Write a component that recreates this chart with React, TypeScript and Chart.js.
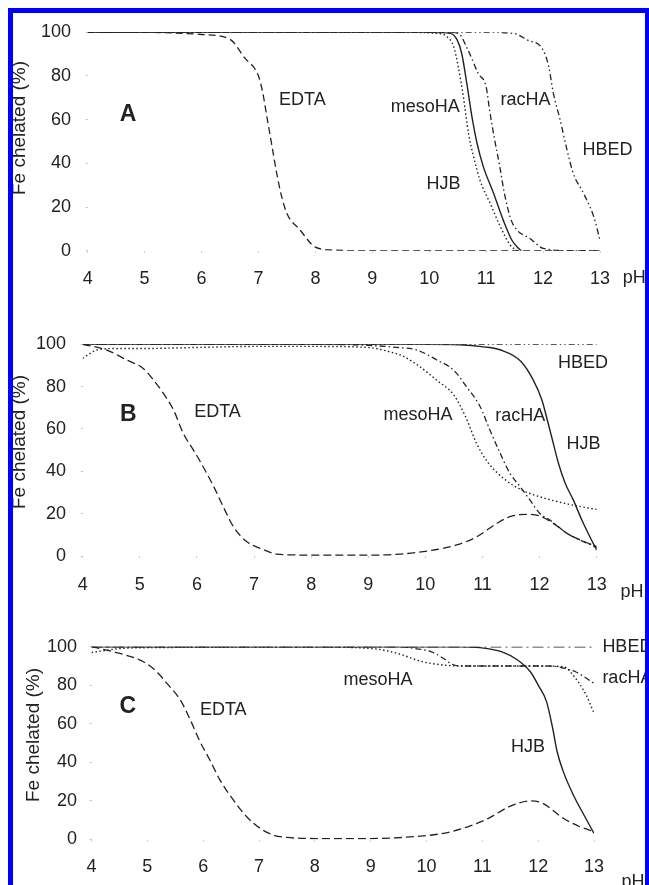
import { useEffect, useRef } from 'react';
import { Chart, registerables } from 'chart.js';

Chart.register(...registerables);

const FONT = '"Liberation Sans", Arial, Helvetica, sans-serif';
const INK = '#222222';
const BLUE = '#0000ff';

// ---------- axis ticks ----------
const PH_MIN = 4;
const PH_MAX = 13;
const PCT_MIN = 0;
const PCT_MAX = 100;
const PH_STEP = 1;
const PCT_STEP = 20;
const Y_TITLE = 'Fe chelated (%)';
const X_TITLE = 'pH';

// ---------- Panel A ----------
const phEdtaA = [4, 5, 5.5, 6, 6.5, 6.75, 7, 7.07, 7.15, 7.23, 7.32, 7.41, 7.5, 7.73, 8, 8.3, 9, 10, 11, 12, 13];
const edtaA = [100, 100, 99.7, 99, 96.8, 88.5, 80, 73, 61, 49, 35.5, 24.5, 17, 9.5, 1.6, 0.3, 0, 0, 0, 0, 0];
const phHjbA = [4, 6, 8, 10, 10.37, 10.49, 10.57, 10.66, 10.75, 10.84, 10.95, 11.13, 11.3, 11.45, 11.57, 11.62];
const hjbA = [100, 100, 100, 100, 99.5, 96.5, 90.4, 76.6, 61.4, 49.2, 38.5, 26.3, 14, 4.9, 1.1, 0];
const phMesoA = [4, 8, 9.5, 10.13, 10.31, 10.43, 10.51, 10.6, 10.69, 10.78, 10.89, 11.07, 11.25, 11.42, 11.51, 11.55];
const mesoA = [100, 100, 100, 99.5, 98, 93.4, 84.2, 70.5, 53.7, 43, 32.4, 21.7, 11, 2.6, 0.6, 0];
const phRacA = [4, 8, 10.3, 10.51, 10.68, 10.86, 11, 11.06, 11.15, 11.24, 11.32, 11.44, 11.54, 11.77, 12, 12.5, 13];
const racA = [100, 100, 100, 99.5, 91.9, 81.2, 75, 64.4, 50.7, 38.5, 26.3, 14, 9.5, 5.6, 1.1, 0, 0];
const phHbedA = [4, 8, 11, 11.48, 11.72, 12, 12.1, 12.18, 12.3, 12.42, 12.53, 12.71, 12.89, 13];
const hbedA = [100, 100, 100, 99.5, 96.5, 91.9, 84.2, 72.1, 59.9, 46.2, 35.4, 26.3, 15.6, 4.9];

// ---------- Panel B ----------
const phEdtaB = [4, 4.42, 4.77, 5.06, 5.24, 5.41, 5.59, 5.76, 5.94, 6.05, 6.29, 6.46, 6.64, 6.87, 7.11, 7.4, 7.7, 8, 9, 9.56, 10.14, 10.55, 10.9, 11.25, 11.48, 11.78, 12, 12.24, 12.48, 12.71, 13];
const edtaB = [100, 97.3, 92.6, 88.6, 83.1, 76.9, 69, 58, 50, 45, 33, 23.3, 13.8, 6.8, 3.6, 0.9, 0.5, 0.4, 0.4, 0.9, 2.8, 5.2, 9.1, 15.4, 18.6, 19.7, 18.9, 15.4, 10.7, 7.6, 4.5];
const phHjbB = [4, 6, 8, 10, 10.6, 11.02, 11.32, 11.67, 11.89, 12.04, 12.15, 12.24, 12.33, 12.45, 12.59, 12.74, 12.88, 13];
const hjbB = [100, 100, 100, 100, 99.8, 98.8, 97.3, 92, 83.1, 73.7, 62.7, 53.2, 43.8, 34.3, 26.5, 17, 9.1, 2.8];
const phMesoB = [4, 4.25, 4.6, 5, 6, 7, 8, 9, 9.37, 9.6, 9.9, 10.2, 10.5, 10.7, 10.9, 11.1, 11.4, 11.7, 12, 12.5, 13];
const mesoB = [93.4, 97.3, 98, 98, 98.5, 99, 99, 98.5, 96.5, 94.5, 89.5, 83, 76, 66, 53, 44, 36, 31, 28, 24.5, 22];
const phRacB = [4, 8, 9, 9.5, 9.85, 10.2, 10.49, 10.72, 10.96, 11.13, 11.31, 11.48, 11.66, 11.83, 12, 12.18, 12.48, 12.77, 13];
const racB = [100, 100, 99.5, 98.5, 97.3, 92.6, 87.9, 80, 70.5, 59.5, 48.5, 39.1, 32.7, 26.5, 20.2, 17, 10.7, 6.8, 4];
const phHbedB = [4, 8, 13];
const hbedB = [100, 100, 100];

// ---------- Panel C ----------
const phEdtaC = [4, 4.51, 4.93, 5.17, 5.35, 5.59, 5.77, 5.93, 6.12, 6.3, 6.54, 6.78, 7.02, 7.26, 7.5, 8, 9, 9.78, 10.3, 10.74, 11.11, 11.48, 11.86, 12.08, 12.45, 12.75, 13];
const edtaC = [100, 96.5, 92.2, 87, 81, 72.4, 62, 51.6, 41.2, 30.9, 20.5, 11.8, 5.8, 2.3, 1.1, 0.5, 0.5, 1.5, 3.2, 6.6, 11, 17, 20, 18.8, 11, 6.6, 4];
const phHjbC = [4, 8, 10.6, 10.96, 11.34, 11.63, 11.86, 12, 12.15, 12.26, 12.34, 12.45, 12.63, 12.82, 13];
const hjbC = [100, 100, 100, 99.5, 97.4, 93.1, 87, 80.1, 71.5, 57.7, 45.5, 35.2, 23.1, 12.7, 3.2];
const phMesoC = [4, 4.5, 5, 8, 9.04, 9.48, 9.93, 10.3, 10.6, 11, 12, 12.45, 12.67, 12.86, 13];
const mesoC = [97, 99, 99.5, 99.8, 99, 96.5, 92.2, 90.5, 90, 90, 90, 89.6, 83.6, 74.9, 65.5];
const phRacC = [4, 8, 9.5, 9.8, 10.08, 10.3, 10.45, 10.6, 11, 12, 12.3, 12.5, 12.67, 13];
const racC = [100, 100, 100, 99, 97.4, 94, 91, 90, 90, 90, 89.8, 88.5, 87, 81];
const phHbedC = [4, 8, 13];
const hbedC = [100, 100, 100];

// ---------- line styles ----------
const STYLE = {
  hjb: { dash: [] as number[], width: 1.4 },
  edtaA: { dash: [7, 4], width: 1.3 },
  edta: { dash: [8, 4], width: 1.3 },
  meso: { dash: [1.5, 2.5], width: 1.4 },
  rac: { dash: [6, 3, 1.5, 3], width: 1.3 },
  hbed: { dash: [6, 3, 1.5, 3, 1.5, 3], width: 1.3 },
  hbedC: { dash: [11, 4, 2, 4], width: 1.4 },
};

type Lbl = { text: string; x: number; y: number; size: number; bold?: boolean; align?: CanvasTextAlign };
type Ser = { ph: number[]; val: number[]; style: { dash: number[]; width: number } };
type Panel = {
  top: number;
  height: number;
  area: { left: number; right: number; top: number; bottom: number };
  yGap: number;
  xPad: number;
  title: { x: number; y: number };
  series: Ser[];
  labels: Lbl[];
};

const W = 649;

const PANELS: Panel[] = [
  {
    top: 0,
    height: 300,
    area: { left: 87.7, right: 600, top: 32.3, bottom: 250.7 },
    yGap: 16.7,
    xPad: 15.5,
    title: { x: 20, y: 128 },
    series: [
      { ph: phHjbA, val: hjbA, style: STYLE.hjb },
      { ph: phMesoA, val: mesoA, style: STYLE.meso },
      { ph: phRacA, val: racA, style: STYLE.rac },
      { ph: phHbedA, val: hbedA, style: STYLE.hbed },
      { ph: phEdtaA, val: edtaA, style: STYLE.edtaA },
    ],
    labels: [
      { text: 'A', x: 4.71, y: 62.5, size: 23, bold: true },
      { text: 'EDTA', x: 7.77, y: 69, size: 18 },
      { text: 'mesoHA', x: 9.93, y: 65.8, size: 18 },
      { text: 'racHA', x: 11.69, y: 69, size: 18 },
      { text: 'HBED', x: 13.13, y: 46.1, size: 18 },
      { text: 'HJB', x: 10.25, y: 30.5, size: 18 },
      { text: X_TITLE, x: 13.6, y: -12.5, size: 18 },
    ],
  },
  {
    top: 300,
    height: 300,
    area: { left: 82.7, right: 596.7, top: 44.3, bottom: 256 },
    yGap: 16.7,
    xPad: 16,
    title: { x: 20, y: 142 },
    series: [
      { ph: phHjbB, val: hjbB, style: STYLE.hjb },
      { ph: phMesoB, val: mesoB, style: STYLE.meso },
      { ph: phRacB, val: racB, style: STYLE.rac },
      { ph: phHbedB, val: hbedB, style: STYLE.hbed },
      { ph: phEdtaB, val: edtaB, style: STYLE.edta },
    ],
    labels: [
      { text: 'B', x: 4.8, y: 66.7, size: 23, bold: true },
      { text: 'EDTA', x: 6.36, y: 68, size: 18 },
      { text: 'mesoHA', x: 9.87, y: 66.6, size: 18 },
      { text: 'racHA', x: 11.66, y: 66.1, size: 18 },
      { text: 'HBED', x: 12.76, y: 91.2, size: 18 },
      { text: 'HJB', x: 12.77, y: 52.9, size: 18 },
      { text: X_TITLE, x: 13.62, y: -17, size: 18 },
    ],
  },
  {
    top: 600,
    height: 285,
    area: { left: 91.5, right: 594, top: 46.7, bottom: 239.5 },
    yGap: 14.5,
    xPad: 14.5,
    title: { x: 33.5, y: 135 },
    series: [
      { ph: phHjbC, val: hjbC, style: STYLE.hjb },
      { ph: phMesoC, val: mesoC, style: STYLE.meso },
      { ph: phRacC, val: racC, style: STYLE.rac },
      { ph: phHbedC, val: hbedC, style: STYLE.hbedC },
      { ph: phEdtaC, val: edtaC, style: STYLE.edta },
    ],
    labels: [
      { text: 'C', x: 4.65, y: 68.7, size: 23, bold: true },
      { text: 'EDTA', x: 6.36, y: 67.2, size: 18 },
      { text: 'mesoHA', x: 9.13, y: 82.8, size: 18 },
      { text: 'HJB', x: 11.82, y: 48, size: 18 },
      { text: 'HBED', x: 13.15, y: 99.7, size: 18, align: 'left' },
      { text: 'racHA', x: 13.15, y: 83.7, size: 18, align: 'left' },
      { text: X_TITLE, x: 13.7, y: -22, size: 18 },
    ],
  },
];

function PanelChart({ p }: { p: Panel }) {
  const ref = useRef<HTMLCanvasElement | null>(null);
  useEffect(() => {
    if (!ref.current) return;
    const textPlugin = {
      id: 'panelText',
      afterDraw(chart: any) {
        const { ctx } = chart;
        const xs = chart.scales.x;
        const ys = chart.scales.y;
        ctx.save();
        ctx.fillStyle = INK;
        ctx.textBaseline = 'middle';
        for (const lb of p.labels) {
          ctx.font = `${lb.bold ? 'bold ' : ''}${lb.size}px ${FONT}`;
          ctx.textAlign = lb.align || 'center';
          ctx.fillText(lb.text, xs.getPixelForValue(lb.x), ys.getPixelForValue(lb.y));
        }
        ctx.translate(p.title.x, p.title.y);
        ctx.rotate(-Math.PI / 2);
        ctx.font = `19px ${FONT}`;
        ctx.textAlign = 'center';
        ctx.fillText(Y_TITLE, 0, 0);
        ctx.restore();
      },
    };
    const chart = new Chart(ref.current, {
      type: 'line',
      data: {
        datasets: p.series.map((s) => ({
          data: s.ph.map((x, i) => ({ x, y: s.val[i] })),
          borderColor: INK,
          borderWidth: s.style.width,
          borderDash: s.style.dash,
          pointRadius: 0,
          fill: false,
          cubicInterpolationMode: 'monotone' as const,
        })),
      },
      options: {
        animation: false,
        responsive: false,
        maintainAspectRatio: false,
        events: [],
        layout: {
          padding: { left: 0, top: p.area.top, right: W - p.area.right, bottom: 0 },
        },
        plugins: { legend: { display: false }, tooltip: { enabled: false } },
        scales: {
          x: {
            type: 'linear',
            min: PH_MIN,
            max: PH_MAX,
            border: { display: false },
            grid: { display: true, drawOnChartArea: false, drawTicks: true, tickLength: 2, color: '#c8c8c8' },
            ticks: { stepSize: PH_STEP, color: INK, font: { family: FONT, size: 18 }, padding: p.xPad, maxRotation: 0 },
            afterFit: (scale: any) => {
              scale.height = p.height - p.area.bottom;
            },
          },
          y: {
            type: 'linear',
            min: PCT_MIN,
            max: PCT_MAX,
            border: { display: false },
            grid: { display: true, drawOnChartArea: false, drawTicks: true, tickLength: 2, color: '#c8c8c8' },
            ticks: { stepSize: PCT_STEP, color: INK, font: { family: FONT, size: 18 }, padding: p.yGap - 2 },
            afterFit: (scale: any) => {
              scale.width = p.area.left;
            },
          },
        },
      },
      plugins: [textPlugin],
    });
    return () => chart.destroy();
  }, [p]);
  return (
    <canvas
      ref={ref}
      width={W}
      height={p.height}
      style={{ position: 'absolute', left: 0, top: p.top, width: W, height: p.height }}
    />
  );
}

export default function App() {
  return (
    <div style={{ position: 'absolute', left: 0, top: 0, width: W, height: 885, background: '#fff', overflow: 'hidden' }}>
      {PANELS.map((p, i) => (
        <PanelChart key={i} p={p} />
      ))}
      <div style={{ position: 'absolute', left: 8, top: 8, width: W - 8, height: 5, background: BLUE, zIndex: 2 }} />
      <div style={{ position: 'absolute', left: 8, top: 8, width: 5, height: 885 - 8, background: BLUE, zIndex: 2 }} />
      <div style={{ position: 'absolute', left: 645, top: 8, width: 4, height: 885 - 8, background: BLUE, zIndex: 2 }} />
    </div>
  );
}
